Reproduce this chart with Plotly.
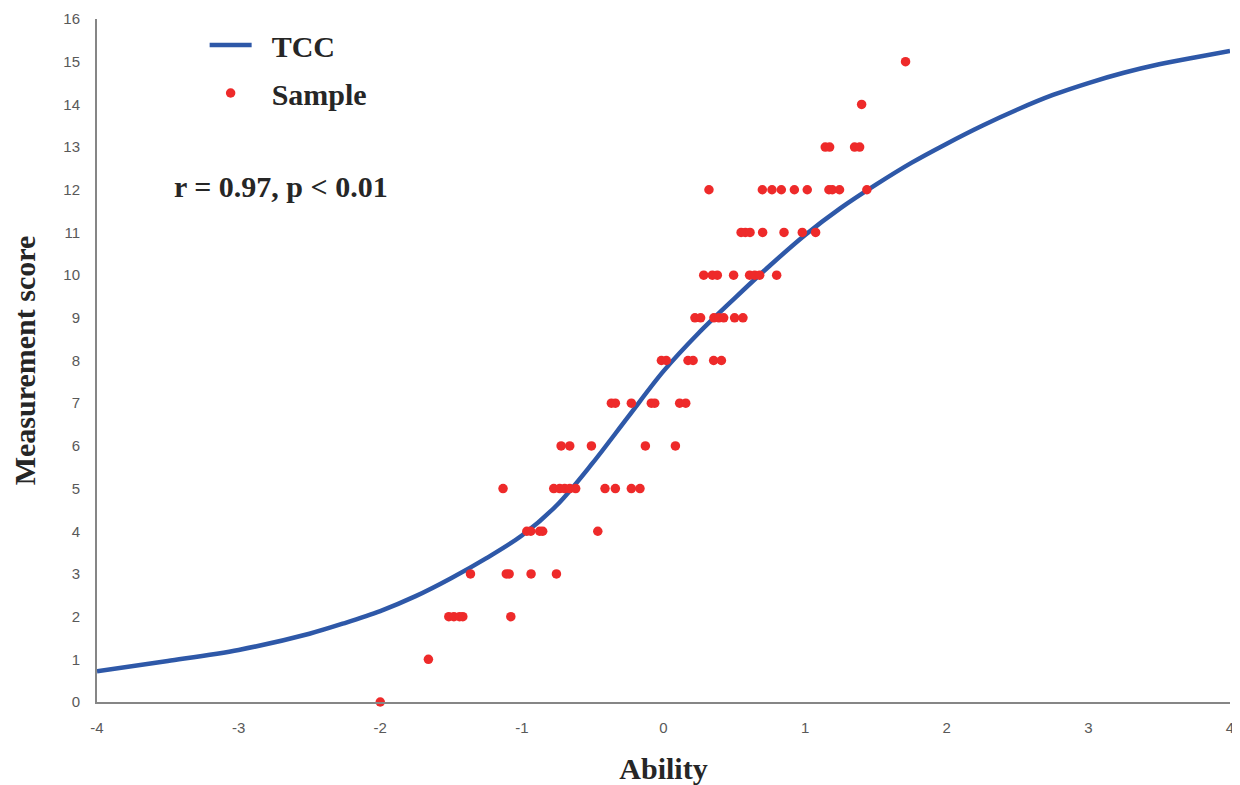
import plotly.graph_objects as go

# TCC curve
tcc_ability = [-4.0, -3.5, -3.0, -2.5, -2.25, -2.0, -1.75, -1.5, -1.25, -1.0, -0.75, -0.5, -0.25,
               0.0, 0.25, 0.5, 0.75, 1.0, 1.25, 1.5, 1.75, 2.0, 2.25, 2.5, 2.75, 3.0, 3.25,
               3.5, 3.75, 4.0]
tcc_score = [0.72, 0.96, 1.22, 1.6, 1.85, 2.13, 2.48, 2.9, 3.37, 3.9, 4.62, 5.6, 6.68,
             7.75, 8.65, 9.45, 10.22, 10.94, 11.57, 12.12, 12.63, 13.08, 13.5, 13.88, 14.22, 14.5, 14.74,
             14.94, 15.1, 15.25]

# Sample points (ability, score)
sample_ability = [
    -2.0,
    -1.66,
    -1.516, -1.48, -1.44, -1.417, -1.078,
    -1.363, -1.11, -1.09, -0.935, -0.756,
    -0.965, -0.937, -0.874, -0.853, -0.464,
    -1.133, -0.775, -0.733, -0.698, -0.662, -0.62, -0.413, -0.34, -0.227, -0.166,
    -0.723, -0.662, -0.509, -0.128, 0.084,
    -0.368, -0.34, -0.227, -0.086, -0.062, 0.114, 0.157,
    -0.015, 0.02, 0.173, 0.209, 0.354, 0.409,
    0.222, 0.262, 0.356, 0.391, 0.425, 0.502, 0.561,
    0.284, 0.345, 0.38, 0.495, 0.608, 0.644, 0.679, 0.799,
    0.548, 0.578, 0.611, 0.70, 0.851, 0.98, 1.074,
    0.321, 0.698, 0.766, 0.832, 0.924, 1.015, 1.168, 1.192, 1.243, 1.436,
    1.142, 1.173, 1.349, 1.385,
    1.399,
    1.709,
]
sample_score = (
    [0] * 1 + [1] * 1 + [2] * 5 + [3] * 5 + [4] * 5 + [5] * 10 + [6] * 5 + [7] * 7
    + [8] * 6 + [9] * 7 + [10] * 8 + [11] * 7 + [12] * 10 + [13] * 4 + [14] * 1 + [15] * 1
)

x_ticks = [-4, -3, -2, -1, 0, 1, 2, 3, 4]
y_ticks = list(range(0, 17))

serif_bold = dict(family="Liberation Serif", size=30, color="#262626", weight="bold")

fig = go.Figure()
fig.add_trace(go.Scatter(
    x=tcc_ability, y=tcc_score, mode="lines", name="\u2002TCC",
    line=dict(color="#2E58A8", width=4.5, shape="spline", smoothing=0.9),
    legendgroup="a",
))
fig.add_trace(go.Scatter(
    x=sample_ability, y=sample_score, mode="markers", name="\u2002Sample",
    marker=dict(color="#EE2A2A", size=9.5),
    cliponaxis=False, legendgroup="b",
))

fig.add_annotation(
    x=-2.7, y=12.07, xref="x", yref="y", text="r = 0.97, p < 0.01",
    showarrow=False, font=serif_bold,
)

axis_common = dict(
    showgrid=False, zeroline=False, showline=True, linecolor="#868686", linewidth=2,
    ticks="", automargin=False,
    tickfont=dict(family="Liberation Sans", size=15, color="#595959"),
)
fig.update_xaxes(
    range=[-4, 4], tickvals=x_ticks, ticktext=[str(v) for v in x_ticks],
    title=dict(text="Ability", font=serif_bold, standoff=25),
    ticklabelstandoff=11, **axis_common,
)
fig.update_yaxes(
    range=[0, 16], tickvals=y_ticks, ticktext=[str(v) for v in y_ticks],
    title=dict(text="Measurement score", font=serif_bold, standoff=31),
    ticklabelstandoff=12, **axis_common,
)

# the page body adds an 8px offset, so the figure is sized and placed to compensate
fig.update_layout(
    width=1232, height=777,
    margin=dict(l=89, r=10, t=11, b=83),
    plot_bgcolor="white", paper_bgcolor="white",
    showlegend=True,
    legend=dict(
        x=0.095, y=1.0, xanchor="left", yanchor="top",
        font=serif_bold, bgcolor="rgba(0,0,0,0)", itemwidth=42,
        traceorder="grouped", tracegroupgap=6,
    ),
)

fig.write_html("out.html")
